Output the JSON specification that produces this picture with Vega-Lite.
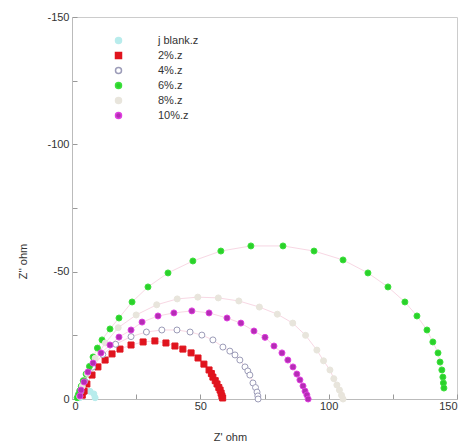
{
  "$schema": "https://vega.github.io/schema/vega-lite/v6.json",
  "width": 385,
  "height": 382,
  "autosize": {"type": "none"},
  "padding": {"left": 72, "top": 17, "right": 11, "bottom": 46},
  "background": "white",
  "config": {
    "font": "Liberation Sans",
    "view": {"stroke": "#cccccc", "strokeWidth": 1},
    "axis": {
      "grid": false,
      "domainColor": "#bbbbbb",
      "tickColor": "#999999",
      "tickSize": -5,
      "labelFont": "Liberation Sans",
      "labelFontSize": 11,
      "labelColor": "#333333",
      "titleFont": "Liberation Sans",
      "titleFontSize": 11,
      "titleFontWeight": "normal",
      "titleColor": "#333333",
      "labelExpr": "datum.value % 50 === 0 ? replace(datum.label, '\u2212', '-') : ''"
    },
    "legend": {
      "labelFont": "Liberation Sans",
      "labelFontSize": 11,
      "labelColor": "#333333"
    }
  },
  "datasets": {
    "pts": [
      {"series": "j blank.z", "x": 3.0, "y": -0.5},
      {"series": "j blank.z", "x": 3.5, "y": -2.0},
      {"series": "j blank.z", "x": 5.0, "y": -3.0},
      {"series": "j blank.z", "x": 7.0, "y": -3.0},
      {"series": "j blank.z", "x": 8.5, "y": -2.0},
      {"series": "j blank.z", "x": 9.0, "y": -0.5},
      {"series": "2%.z", "x": 4.0, "y": -1.5},
      {"series": "2%.z", "x": 4.7, "y": -3.1},
      {"series": "2%.z", "x": 5.8, "y": -5.9},
      {"series": "2%.z", "x": 7.8, "y": -9.4},
      {"series": "2%.z", "x": 10.1, "y": -12.6},
      {"series": "2%.z", "x": 12.9, "y": -15.3},
      {"series": "2%.z", "x": 15.6, "y": -17.7},
      {"series": "2%.z", "x": 18.7, "y": -19.6},
      {"series": "2%.z", "x": 23.0, "y": -21.2},
      {"series": "2%.z", "x": 27.7, "y": -22.4},
      {"series": "2%.z", "x": 32.3, "y": -22.8},
      {"series": "2%.z", "x": 36.6, "y": -22.0},
      {"series": "2%.z", "x": 40.1, "y": -20.8},
      {"series": "2%.z", "x": 43.2, "y": -19.6},
      {"series": "2%.z", "x": 46.4, "y": -18.1},
      {"series": "2%.z", "x": 49.1, "y": -16.1},
      {"series": "2%.z", "x": 51.4, "y": -13.7},
      {"series": "2%.z", "x": 53.4, "y": -11.4},
      {"series": "2%.z", "x": 54.3, "y": -10.0},
      {"series": "2%.z", "x": 54.9, "y": -8.6},
      {"series": "2%.z", "x": 55.8, "y": -7.2},
      {"series": "2%.z", "x": 56.5, "y": -5.9},
      {"series": "2%.z", "x": 57.2, "y": -4.5},
      {"series": "2%.z", "x": 57.7, "y": -3.5},
      {"series": "2%.z", "x": 58.1, "y": -2.3},
      {"series": "2%.z", "x": 58.4, "y": -1.2},
      {"series": "2%.z", "x": 58.7, "y": -0.4},
      {"series": "4%.z", "x": 3.5, "y": -3.0},
      {"series": "4%.z", "x": 5.0, "y": -7.0},
      {"series": "4%.z", "x": 8.0, "y": -12.5},
      {"series": "4%.z", "x": 12.0, "y": -17.5},
      {"series": "4%.z", "x": 17.0, "y": -21.5},
      {"series": "4%.z", "x": 23.0, "y": -24.5},
      {"series": "4%.z", "x": 29.0, "y": -26.3},
      {"series": "4%.z", "x": 35.0, "y": -27.1},
      {"series": "4%.z", "x": 40.9, "y": -27.1},
      {"series": "4%.z", "x": 46.0, "y": -26.3},
      {"series": "4%.z", "x": 50.6, "y": -25.1},
      {"series": "4%.z", "x": 54.9, "y": -23.2},
      {"series": "4%.z", "x": 58.8, "y": -20.4},
      {"series": "4%.z", "x": 61.5, "y": -18.8},
      {"series": "4%.z", "x": 63.5, "y": -17.3},
      {"series": "4%.z", "x": 65.4, "y": -15.3},
      {"series": "4%.z", "x": 67.4, "y": -12.6},
      {"series": "4%.z", "x": 68.5, "y": -11.0},
      {"series": "4%.z", "x": 69.3, "y": -9.4},
      {"series": "4%.z", "x": 70.5, "y": -6.3},
      {"series": "4%.z", "x": 71.5, "y": -4.5},
      {"series": "4%.z", "x": 72.1, "y": -2.7},
      {"series": "4%.z", "x": 72.4, "y": -1.2},
      {"series": "4%.z", "x": 72.5, "y": 0},
      {"series": "6%.z", "x": 2.0, "y": -0.5},
      {"series": "6%.z", "x": 2.5, "y": -1.8},
      {"series": "6%.z", "x": 3.0, "y": -3.2},
      {"series": "6%.z", "x": 3.6, "y": -5.0},
      {"series": "6%.z", "x": 4.4, "y": -7.2},
      {"series": "6%.z", "x": 5.5, "y": -9.8},
      {"series": "6%.z", "x": 6.8, "y": -12.8},
      {"series": "6%.z", "x": 8.2, "y": -16.5},
      {"series": "6%.z", "x": 9.9, "y": -20.0},
      {"series": "6%.z", "x": 11.7, "y": -23.2},
      {"series": "6%.z", "x": 14.8, "y": -27.5},
      {"series": "6%.z", "x": 18.3, "y": -31.8},
      {"series": "6%.z", "x": 23.4, "y": -38.1},
      {"series": "6%.z", "x": 29.6, "y": -44.0},
      {"series": "6%.z", "x": 37.4, "y": -49.5},
      {"series": "6%.z", "x": 47.1, "y": -54.2},
      {"series": "6%.z", "x": 58.0, "y": -58.1},
      {"series": "6%.z", "x": 69.7, "y": -60.1},
      {"series": "6%.z", "x": 82.2, "y": -60.1},
      {"series": "6%.z", "x": 94.3, "y": -58.1},
      {"series": "6%.z", "x": 105.6, "y": -54.6},
      {"series": "6%.z", "x": 115.3, "y": -49.5},
      {"series": "6%.z", "x": 123.1, "y": -44.0},
      {"series": "6%.z", "x": 129.7, "y": -38.1},
      {"series": "6%.z", "x": 134.4, "y": -32.6},
      {"series": "6%.z", "x": 138.3, "y": -27.1},
      {"series": "6%.z", "x": 140.6, "y": -22.4},
      {"series": "6%.z", "x": 142.6, "y": -18.1},
      {"series": "6%.z", "x": 143.4, "y": -14.5},
      {"series": "6%.z", "x": 144.1, "y": -11.4},
      {"series": "6%.z", "x": 144.5, "y": -8.6},
      {"series": "6%.z", "x": 144.7, "y": -6.3},
      {"series": "6%.z", "x": 144.9, "y": -4.3},
      {"series": "8%.z", "x": 3.0, "y": -1.0},
      {"series": "8%.z", "x": 4.0, "y": -5.0},
      {"series": "8%.z", "x": 6.0, "y": -10.0},
      {"series": "8%.z", "x": 9.0, "y": -16.0},
      {"series": "8%.z", "x": 13.0, "y": -22.0},
      {"series": "8%.z", "x": 18.0, "y": -28.0},
      {"series": "8%.z", "x": 25.0, "y": -33.0},
      {"series": "8%.z", "x": 33.0, "y": -37.0},
      {"series": "8%.z", "x": 41.0, "y": -39.3},
      {"series": "8%.z", "x": 49.0, "y": -40.0},
      {"series": "8%.z", "x": 57.0, "y": -39.7},
      {"series": "8%.z", "x": 65.0, "y": -38.5},
      {"series": "8%.z", "x": 73.0, "y": -36.1},
      {"series": "8%.z", "x": 80.0, "y": -33.3},
      {"series": "8%.z", "x": 86.0, "y": -29.8},
      {"series": "8%.z", "x": 91.0, "y": -25.0},
      {"series": "8%.z", "x": 95.4, "y": -19.2},
      {"series": "8%.z", "x": 98.0, "y": -15.0},
      {"series": "8%.z", "x": 100.5, "y": -11.4},
      {"series": "8%.z", "x": 102.0, "y": -8.0},
      {"series": "8%.z", "x": 103.2, "y": -5.5},
      {"series": "8%.z", "x": 104.2, "y": -3.5},
      {"series": "8%.z", "x": 105.0, "y": -1.5},
      {"series": "8%.z", "x": 105.6, "y": 0},
      {"series": "10%.z", "x": 3.1, "y": -1.2},
      {"series": "10%.z", "x": 3.5, "y": -3.5},
      {"series": "10%.z", "x": 4.7, "y": -6.7},
      {"series": "10%.z", "x": 6.2, "y": -10.6},
      {"series": "10%.z", "x": 8.2, "y": -14.1},
      {"series": "10%.z", "x": 11.3, "y": -18.1},
      {"series": "10%.z", "x": 14.8, "y": -21.2},
      {"series": "10%.z", "x": 18.3, "y": -24.3},
      {"series": "10%.z", "x": 23.0, "y": -27.1},
      {"series": "10%.z", "x": 27.3, "y": -30.2},
      {"series": "10%.z", "x": 33.5, "y": -32.6},
      {"series": "10%.z", "x": 39.7, "y": -33.8},
      {"series": "10%.z", "x": 46.7, "y": -34.6},
      {"series": "10%.z", "x": 53.4, "y": -33.8},
      {"series": "10%.z", "x": 60.4, "y": -31.8},
      {"series": "10%.z", "x": 65.8, "y": -29.8},
      {"series": "10%.z", "x": 70.9, "y": -26.7},
      {"series": "10%.z", "x": 75.2, "y": -24.2},
      {"series": "10%.z", "x": 78.7, "y": -20.8},
      {"series": "10%.z", "x": 81.8, "y": -18.1},
      {"series": "10%.z", "x": 84.1, "y": -15.3},
      {"series": "10%.z", "x": 86.1, "y": -12.6},
      {"series": "10%.z", "x": 87.6, "y": -9.8},
      {"series": "10%.z", "x": 88.8, "y": -7.5},
      {"series": "10%.z", "x": 90.0, "y": -5.1},
      {"series": "10%.z", "x": 90.8, "y": -3.1},
      {"series": "10%.z", "x": 91.5, "y": -1.6},
      {"series": "10%.z", "x": 92.0, "y": 0}
    ]
  },
  "data": {"name": "pts"},
  "encoding": {
    "x": {
      "field": "x", "type": "quantitative",
      "scale": {"domain": [0, 150], "nice": false, "zero": false},
      "axis": {"values": [0, 25, 50, 75, 100, 125, 150], "title": "Z' ohm", "titleX": 158, "titleY": 32, "labelPadding": 6}
    },
    "y": {
      "field": "y", "type": "quantitative",
      "scale": {"domain": [0, -150], "nice": false, "zero": false},
      "axis": {"values": [-150, -125, -100, -75, -50, -25, 0], "title": "Z'' ohm", "titleX": -44, "titleY": 244, "labelPadding": 8}
    }
  },
  "layer": [
    {
      "mark": {"type": "line", "strokeWidth": 1, "stroke": "#f0b0c8", "opacity": 0.5},
      "encoding": {
        "detail": {"field": "series", "type": "nominal"}
      }
    },
    {
      "mark": {"type": "point", "filled": true, "strokeWidth": 1, "opacity": 1, "size": 36},
      "encoding": {
        "fill": {
          "field": "series", "type": "nominal",
          "scale": {
            "domain": ["j blank.z", "2%.z", "4%.z", "6%.z", "8%.z", "10%.z"],
            "range": ["#b8ecec", "#e0141e", "#ffffff", "#2ad12a", "#e8e5dc", "#b42db4"]
          },
          "legend": {
            "title": null,
            "orient": "none",
            "legendX": 41,
            "legendY": 18,
            "padding": 0,
            "labelOffset": 34,
            "rowPadding": 2,
            "symbolSize": 36
          }
        },
        "stroke": {
          "field": "series", "type": "nominal",
          "scale": {
            "domain": ["j blank.z", "2%.z", "4%.z", "6%.z", "8%.z", "10%.z"],
            "range": ["#b8ecec", "#e0141e", "#9c9cb8", "#3ee03e", "#e8e5dc", "#e040e0"]
          },
          "legend": {
            "title": null,
            "orient": "none",
            "legendX": 41,
            "legendY": 18,
            "padding": 0,
            "labelOffset": 34,
            "rowPadding": 2,
            "symbolSize": 36
          }
        },
        "shape": {
          "field": "series", "type": "nominal",
          "scale": {
            "domain": ["j blank.z", "2%.z", "4%.z", "6%.z", "8%.z", "10%.z"],
            "range": ["circle", "square", "circle", "circle", "circle", "circle"]
          },
          "legend": {
            "title": null,
            "orient": "none",
            "legendX": 41,
            "legendY": 18,
            "padding": 0,
            "labelOffset": 34,
            "rowPadding": 2,
            "symbolSize": 36
          }
        }
      }
    }
  ]
}
